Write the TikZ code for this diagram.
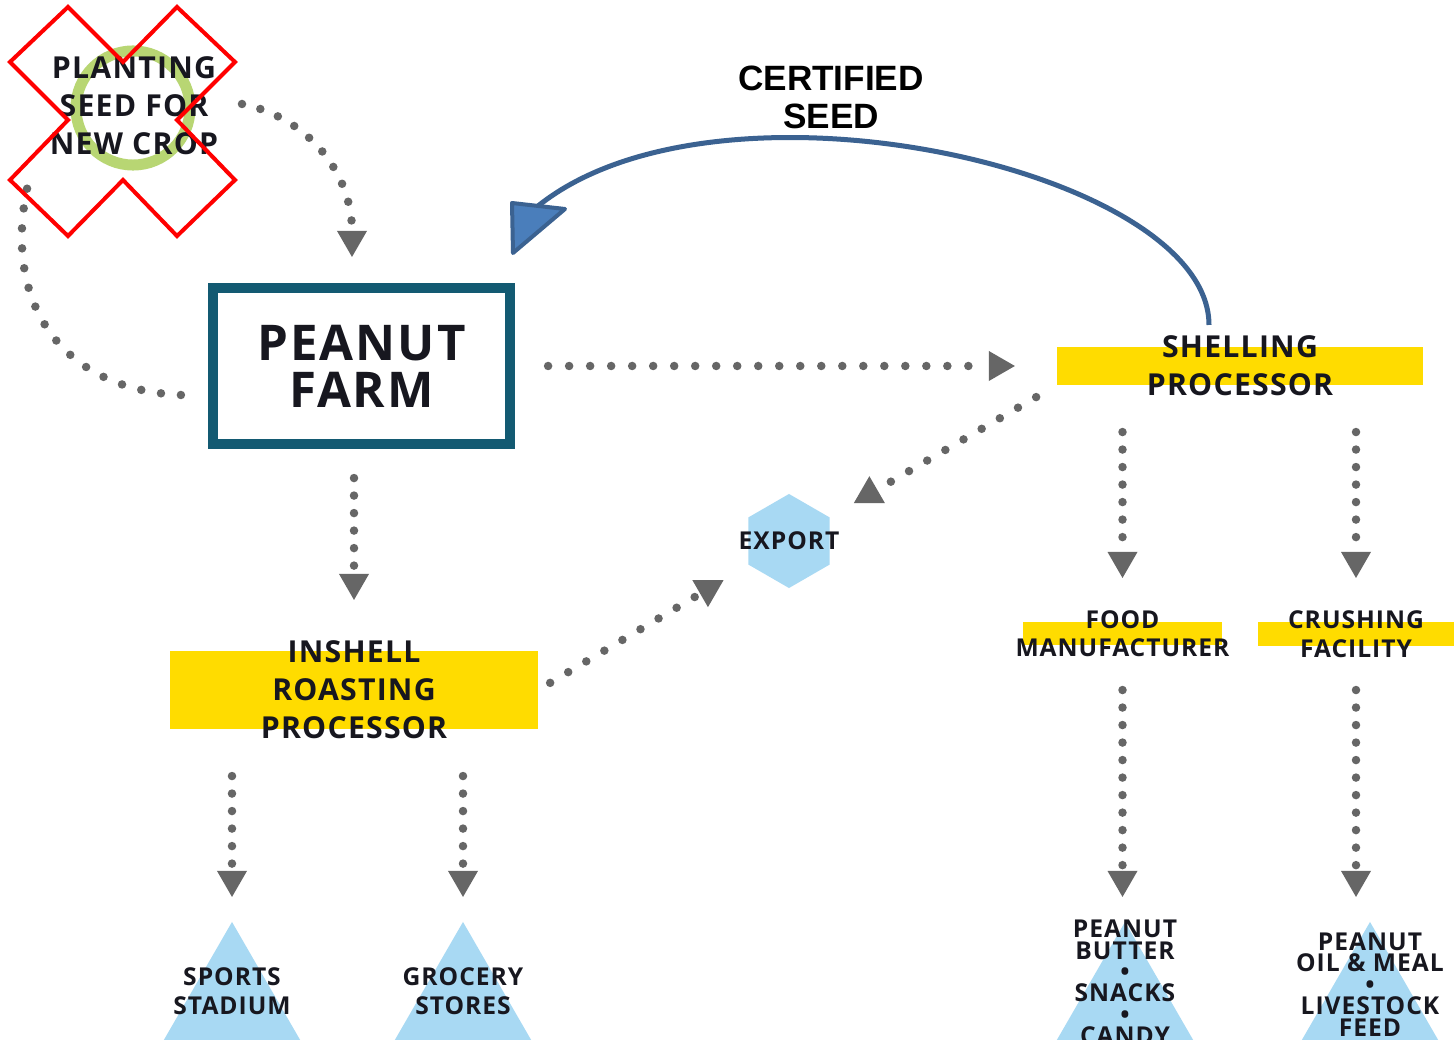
\documentclass[tikz,border=0pt]{standalone}
\usepackage{fontspec}
\setmainfont{Liberation Sans}
\newfontfamily\signfont[LetterSpace=4]{Open Sans}
\usetikzlibrary{arrows.meta,shapes.geometric}
\definecolor{ink}{HTML}{17171F}
\definecolor{dotgray}{HTML}{666666}
\definecolor{farmteal}{HTML}{135A72}
\definecolor{baryellow}{HTML}{FFDC00}
\definecolor{paleblue}{HTML}{A8D9F3}
\definecolor{ringgreen}{HTML}{B8D673}
\definecolor{seedblue}{HTML}{3B6291}
\definecolor{seedfill}{HTML}{4A7EBB}
\tikzset{
  dots/.style={draw=dotgray,line width=0.085cm,line cap=round,dash pattern=on 0pt off #1},
  dots/.default=0.175cm,
  flow/.style={dots=#1,-{Triangle[width=0.3cm,length=0.26cm,line width=0pt]}},
  flow/.default=0.175cm,
  ybar/.style={fill=baryellow,inner sep=0pt,outer sep=0pt},
  farmtxt/.style={text=ink,align=center,font=\signfont\bfseries\fontsize{14}{13.4}\selectfont},
  bigtxt/.style={text=ink,align=center,inner sep=0pt,font=\signfont\bfseries\fontsize{8.6}{10.8}\selectfont},
  smalltxt/.style={text=ink,align=center,inner sep=0pt,font=\signfont\bfseries\fontsize{7}{8.1}\selectfont},
  tinytxt/.style={text=ink,align=center,inner sep=0pt,font=\signfont\bfseries\fontsize{7}{6.1}\selectfont},
  certtxt/.style={text=black,align=center,inner sep=0pt,font=\bfseries\fontsize{10}{10.8}\selectfont},
  tri/.style={regular polygon,regular polygon sides=3,fill=paleblue,minimum size=1.84cm,inner sep=0pt,outer sep=0pt},
  hexa/.style={regular polygon,regular polygon sides=6,shape border rotate=30,fill=paleblue,minimum size=0.94cm,inner sep=0pt,outer sep=0pt},
  marker/.style={regular polygon,regular polygon sides=3,solid,draw=none,fill=dotgray,minimum size=0.36cm,inner sep=0pt,outer sep=0pt},
}
\begin{document}
\begin{tikzpicture}[x=0.01cm,y=-0.01cm]
\useasboundingbox[fill=white] (0,0) rectangle (1454,1040);
% crossed out seed sign
\draw[ringgreen,line width=0.11cm] (133,108) circle (0.57cm);
\node[bigtxt] (seed) at (134,106) {PLANTING\\SEED FOR\\NEW CROP};
\coordinate (seedout) at (242,104);
\coordinate (seedin) at (29,180);
% boxes
\node[farmtxt,draw=farmteal,line width=0.1cm,minimum width=2.97cm,minimum height=1.56cm] (farm) at (361.5,366) {PEANUT\\FARM};
\node[ybar,minimum width=3.66cm,minimum height=0.38cm,label={[bigtxt]center:SHELLING\\PROCESSOR}] (shell) at (1240,366) {};
\node[ybar,minimum width=3.68cm,minimum height=0.78cm,label={[bigtxt]center:INSHELL\\ROASTING\\PROCESSOR}] (roast) at (354,690) {};
\node[ybar,minimum width=1.99cm,minimum height=0.23cm,label={[smalltxt]center:FOOD\\MANUFACTURER}] (food) at (1122.5,633.5) {};
\node[ybar,minimum width=1.96cm,minimum height=0.24cm,label={[smalltxt]center:CRUSHING\\FACILITY}] (crush) at (1356,634) {};
\node[hexa,label={[smalltxt]center:EXPORT}] (export) at (789,541) {};
\node[tri,label={[smalltxt,yshift=0.23cm]center:SPORTS\\STADIUM}] (sports) at (232,1014) {};
\node[tri,label={[smalltxt,yshift=0.23cm]center:GROCERY\\STORES}] (grocery) at (463,1014) {};
\node[tri,label={[tinytxt,yshift=0.315cm]center:PEANUT\\BUTTER\\•\\SNACKS\\•\\CANDY}] (butter) at (1125,1014) {};
\node[tri,label={[tinytxt,yshift=0.295cm]center:PEANUT\\OIL \& MEAL\\•\\LIVESTOCK\\FEED}] (oil) at (1370,1014) {};
\node[certtxt] (cert) at (831,97) {CERTIFIED\\SEED};
% dotted flows
\draw[flow=0.19cm,shorten >=0.26cm] (seedout) .. controls (310,118) and (352,175) .. ([xshift=-0.095cm]farm.north);
\draw[dots=0.2cm] ([shift={(-27,29)}]farm.west) .. controls (60,390) and (0,300) .. (seedin);
\draw[flow=0.21cm,shorten <=0.33cm,shorten >=0.42cm] (farm) -- (shell);
\draw[flow,shorten <=0.29cm,shorten >=0.51cm] (farm.south -| roast) -- (roast);
\draw[dots=0.21cm,shorten <=0.14cm,shorten >=1.09cm] (roast.east) -- node[marker,shape border rotate=180,pos=0.677] (tipa) {} (export.center);
\draw[dots=0.21cm,shorten <=0.24cm,shorten >=1.17cm] (shell.south west) -- node[marker,pos=0.70] (tipb) {} (export.center);
\draw[flow,shorten <=0.47cm,shorten >=0.44cm] (shell.south -| food) -- (food);
\draw[flow,shorten <=0.47cm,shorten >=0.44cm] (shell.south -| crush) -- (crush);
\draw[flow,shorten <=0.45cm,shorten >=0.25cm] (food.south) -- (food.south |- butter.north);
\draw[flow,shorten <=0.44cm,shorten >=0.25cm] (crush.south) -- (crush.south |- oil.north);
\draw[flow,shorten <=0.47cm,shorten >=0.25cm] (roast.south -| sports) -- (sports.north);
\draw[flow,shorten <=0.47cm,shorten >=0.25cm] (roast.south -| grocery) -- (grocery.north);
% certified seed return
\coordinate (seedtip) at (538,206);
\draw[seedblue,line width=0.05cm] ([shift={(-31,-22)}]shell.north) .. controls (1209,170) and (720,60) .. (seedtip);
\filldraw[fill=seedfill,draw=seedblue,line width=0.04cm,line join=round] (512,203) -- (565,209) -- (513,253) -- cycle;
% red cross
\draw[red,line width=0.04cm] (68,7) -- (123,62) -- (177,7) -- (235,62) -- (177,120) -- (235,180) -- (177,236) -- (123,180) -- (68,236) -- (10,180) -- (68,120) -- (10,62) -- cycle;
\end{tikzpicture}
\end{document}
